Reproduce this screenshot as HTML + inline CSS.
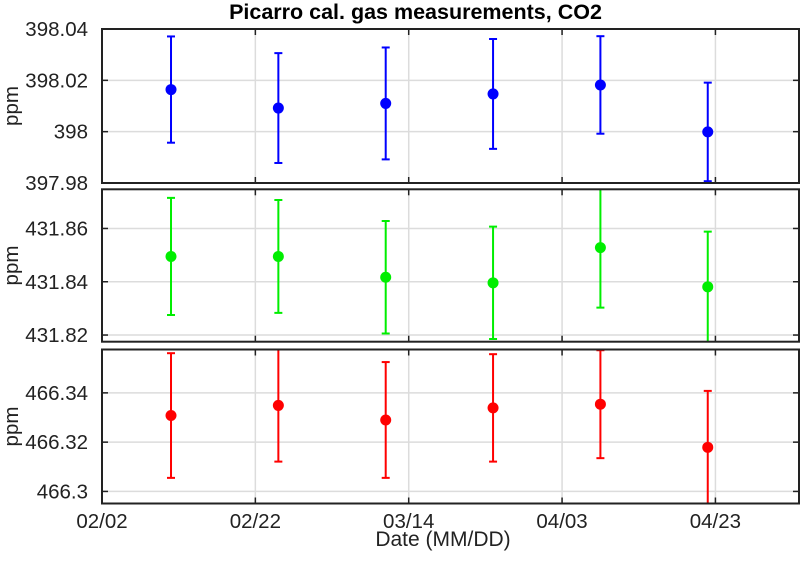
<!DOCTYPE html>
<html><head><meta charset="utf-8"><style>
html,body{margin:0;padding:0;background:#fff;}
svg{display:block;font-family:"Liberation Sans",Arial,sans-serif;}
</style></head><body>
<svg id="chart" width="800" height="562" viewBox="0 0 800 562" xmlns="http://www.w3.org/2000/svg">
<text x="415.5" y="19" text-anchor="middle" font-size="21.5" font-weight="bold" fill="#000">Picarro cal. gas measurements, CO2</text>
<text x="443" y="546" text-anchor="middle" font-size="21" fill="#222">Date (MM/DD)</text>
</svg>
<script>
// Data (days since 02/02)
const dayOffsets = [9, 23, 37, 51, 65, 79];
const xTickDays = [0, 20, 40, 60, 80];
const xTickLabels = ["02/02", "02/22", "03/14", "04/03", "04/23"];
const blueValues = [398.0164, 398.0092, 398.0110, 398.0147, 398.0182, 397.9999];
const blueErrors = [0.0207, 0.0214, 0.0218, 0.0214, 0.0190, 0.0192];
const greenValues = [431.8495, 431.8495, 431.8417, 431.8396, 431.8528, 431.8381];
const greenErrors = [0.0220, 0.0212, 0.0211, 0.0211, 0.0225, 0.0207];
const redValues = [466.3308, 466.3349, 466.3290, 466.3339, 466.3354, 466.3179];
const redErrors = [0.0253, 0.0228, 0.0235, 0.0218, 0.0219, 0.0229];
const blueTicks = [397.98, 398, 398.02, 398.04];
const blueTickLabels = ["397.98", "398", "398.02", "398.04"];
const greenTicks = [431.82, 431.84, 431.86];
const greenTickLabels = ["431.82", "431.84", "431.86"];
const redTicks = [466.3, 466.32, 466.34];
const redTickLabels = ["466.3", "466.32", "466.34"];

const svg = document.getElementById('chart');
const NS = 'http://www.w3.org/2000/svg';
const X0 = 102, X1 = 799, DMIN = 0, DMAX = 90.9;
function xScale(d){ return X0 + (d - DMIN) / (DMAX - DMIN) * (X1 - X0); }
function mk(tag, attrs){ const e = document.createElementNS(NS, tag); for (const k in attrs) e.setAttribute(k, attrs[k]); svg.appendChild(e); return e; }

const panels = [
  {name:'blue', top:29, bottom:183, ymin:397.98, ymax:398.04, vals:blueValues, errs:blueErrors, ticks:blueTicks, labels:blueTickLabels, color:'#0000ff'},
  {name:'green', top:189.3, bottom:341.7, ymin:431.8175, ymax:431.8747, vals:greenValues, errs:greenErrors, ticks:greenTicks, labels:greenTickLabels, color:'#00ee00'},
  {name:'red', top:349.5, bottom:503.5, ymin:466.2951, ymax:466.3576, vals:redValues, errs:redErrors, ticks:redTicks, labels:redTickLabels, color:'#ff0000'}
];

panels.forEach((p, pi) => {
  const yScale = v => p.bottom - (v - p.ymin) / (p.ymax - p.ymin) * (p.bottom - p.top);
  const cid = 'clip' + pi;
  const defs = mk('defs', {});
  const cp = document.createElementNS(NS, 'clipPath'); cp.setAttribute('id', cid);
  const cr = document.createElementNS(NS, 'rect');
  cr.setAttribute('x', X0); cr.setAttribute('y', p.top); cr.setAttribute('width', X1 - X0); cr.setAttribute('height', p.bottom - p.top);
  cp.appendChild(cr); defs.appendChild(cp);
  xTickDays.forEach((d, i) => {
    const g = mk('line', {x1:xScale(d), x2:xScale(d), y1:p.top, y2:p.bottom, stroke:'#dcdcdc', 'stroke-width':1.5});
    
    
  });
  p.ticks.forEach((t, i) => {
    const y = yScale(t);
    const g = mk('line', {x1:X0, x2:X1, y1:y, y2:y, stroke:'#dcdcdc', 'stroke-width':1.5});
    
    
    const tl = mk('line', {x1:X0, x2:X0+6, y1:y, y2:y, stroke:'#222', 'stroke-width':1.5});
    
    
    const tr = mk('line', {x1:X1-6, x2:X1, y1:y, y2:y, stroke:'#222', 'stroke-width':1.5});
    
    
    const lb = mk('text', {x:X0-14, y:y+7, 'text-anchor':'end', 'font-size':20.5, fill:'#222'});
    lb.textContent = p.labels[i];
    
    
  });
  xTickDays.forEach(d => {
    const x = xScale(d);
    const t1 = mk('line', {x1:x, x2:x, y1:p.top, y2:p.top+6, stroke:'#222', 'stroke-width':1.5});
    
    
    const t2 = mk('line', {x1:x, x2:x, y1:p.bottom-6, y2:p.bottom, stroke:'#222', 'stroke-width':1.5});
    
    
  });
  const grp = mk('g', {'clip-path':'url(#' + cid + ')'});
  p.vals.forEach((v, i) => {
    const x = xScale(dayOffsets[i]);
    const yt = yScale(v + p.errs[i]), yb = yScale(v - p.errs[i]), yc = yScale(v);
    const parts = [
      [x, yt, x, yb], [x-4, yt, x+4, yt], [x-4, yb, x+4, yb]
    ];
    parts.forEach(q => {
      const l = document.createElementNS(NS, 'line');
      l.setAttribute('x1', q[0]); l.setAttribute('y1', q[1]); l.setAttribute('x2', q[2]); l.setAttribute('y2', q[3]);
      l.setAttribute('stroke', p.color); l.setAttribute('stroke-width', 2);
      
      
      grp.appendChild(l);
    });
    const c = document.createElementNS(NS, 'circle');
    c.setAttribute('cx', x); c.setAttribute('cy', yc); c.setAttribute('r', 5.5); c.setAttribute('fill', p.color);
    
    
    grp.appendChild(c);
  });
  const frame = mk('rect', {x:X0, y:p.top, width:X1-X0, height:p.bottom-p.top, fill:'none', stroke:'#222', 'stroke-width':2});
  
  
  const yl = mk('text', {x:0, y:0, 'text-anchor':'middle', 'font-size':20.5, fill:'#222', transform:'translate(18,' + ((p.top+p.bottom)/2) + ') rotate(-90)'});
  yl.textContent = 'ppm';
  
  
});
xTickDays.forEach((d, i) => {
  const t = mk('text', {x:xScale(d), y:528, 'text-anchor':'middle', 'font-size':20.5, fill:'#222'});
  t.textContent = xTickLabels[i];
  
  
});
</script>
</body></html>
